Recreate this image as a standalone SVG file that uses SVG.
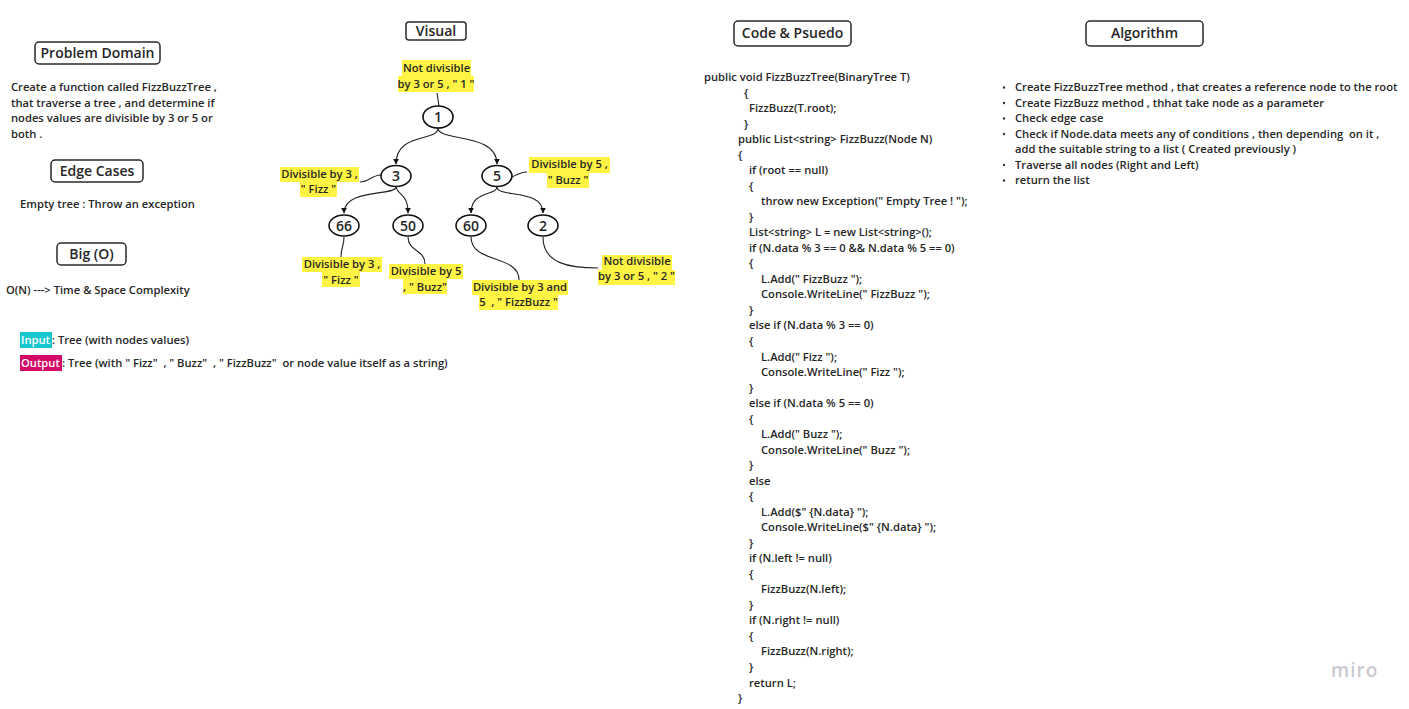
<svg xmlns="http://www.w3.org/2000/svg" width="1409" height="709" viewBox="0 0 1409 709">
<style>
text{font-family:"Open Sans","Noto Sans","DejaVu Sans",sans-serif;font-weight:600;fill:#262626;white-space:pre}
.b{font-size:11.2px}
.h{font-size:14px}
.n{font-size:14px;text-anchor:middle}
.c{text-anchor:middle}
.box{fill:#fff;stroke:#2a2a2a;stroke-width:1.5}
.hl{fill:#fff443}
.nd{fill:#fff;stroke:#111;stroke-width:1.6}
.e{fill:none;stroke:#222;stroke-width:1.1}
.a{fill:none;stroke:#222;stroke-width:1.1;marker-end:url(#ar)}
.w{fill:#fff}
</style>
<defs>
<marker id="ar" viewBox="0 0 10 10" refX="9" refY="5" markerWidth="6" markerHeight="9" orient="auto" markerUnits="userSpaceOnUse">
<path d="M0,0 L10,5 L0,10 z" fill="#111"/>
</marker>
</defs>
<rect width="1409" height="709" fill="#fff"/>

<g id="problem-domain">
<rect class="box" x="35" y="42" width="125" height="22" rx="4"/>
<text class="h c" x="97.5" y="58">Problem Domain</text>
<text class="b" x="11" y="91">Create a function called FizzBuzzTree ,</text>
<text class="b" x="11" y="107">that traverse a tree , and determine if</text>
<text class="b" x="11" y="122">nodes values are divisible by 3 or 5 or</text>
<text class="b" x="11" y="138">both .</text>
</g>

<g id="edge-cases">
<rect class="box" x="51" y="160" width="92" height="22" rx="4"/>
<text class="h c" x="97" y="176">Edge Cases</text>
<text class="b" x="20" y="208">Empty tree : Throw an exception</text>
</g>

<g id="big-o">
<rect class="box" x="57" y="243" width="69" height="22" rx="4"/>
<text class="h c" x="91.5" y="259">Big (O)</text>
<text class="b" x="6" y="294">O(N) ---&gt; Time &amp; Space Complexity</text>
</g>

<g id="input-output">
<rect x="20" y="332" width="32" height="16" fill="#18c6cf"/>
<text class="b w" x="21" y="344">Input</text>
<text class="b" x="52" y="344">: Tree (with nodes values)</text>
<rect x="20" y="355" width="42" height="16" fill="#d40866"/>
<text class="b w" x="21" y="367">Output</text>
<text class="b" x="62" y="367">: Tree (with " Fizz"  , " Buzz"  , " FizzBuzz"  or node value itself as a string)</text>
</g>

<g id="visual-title">
<rect class="box" x="406" y="22" width="60" height="18" rx="3"/>
<text class="h c" x="436" y="36">Visual</text>
</g>

<g id="connectors">
<path class="a" d="M438,128 C438,142 396,132 396,164"/>
<path class="a" d="M438,128 C438,142 497,132 497,164"/>
<path class="a" d="M396,187 C396,196 344,188 344,213"/>
<path class="a" d="M396,187 C398,196 408,193 408,213"/>
<path class="a" d="M497,187 C497,196 471,190 471,213"/>
<path class="a" d="M497,187 C497,198 543,188 543,213"/>
<path class="e" d="M437,93 L439,106"/>
<path class="e" d="M360,182 C369,182 372,175 381,175"/>
<path class="e" d="M512,177 C518,174 521,172 527,172"/>
<path class="e" d="M344,237 C344,246 341,248 341,257"/>
<path class="e" d="M408,237 C408,252 425,249 425,264"/>
<path class="e" d="M471,237 C471,264 519,254 519,280"/>
<path class="e" d="M543,237 C543,264 570,268 598,268"/>
</g>

<g id="node-1">
<ellipse class="nd" cx="438" cy="117" rx="15" ry="11"/>
<text class="n" x="438" y="122">1</text>
</g>
<g id="node-3">
<ellipse class="nd" cx="396" cy="176" rx="15" ry="10.5"/>
<text class="n" x="396" y="181">3</text>
</g>
<g id="node-5">
<ellipse class="nd" cx="497" cy="176" rx="15" ry="10.5"/>
<text class="n" x="497" y="181">5</text>
</g>
<g id="node-66">
<ellipse class="nd" cx="344" cy="225.5" rx="15" ry="10.5"/>
<text class="n" x="344" y="230.5">66</text>
</g>
<g id="node-50">
<ellipse class="nd" cx="408" cy="225.5" rx="15" ry="10.5"/>
<text class="n" x="408" y="230.5">50</text>
</g>
<g id="node-60">
<ellipse class="nd" cx="471" cy="225.5" rx="15" ry="10.5"/>
<text class="n" x="471" y="230.5">60</text>
</g>
<g id="node-2">
<ellipse class="nd" cx="543" cy="225.5" rx="15" ry="10.5"/>
<text class="n" x="543" y="230.5">2</text>
</g>

<g id="label-1">
<rect class="hl" x="402" y="60" width="69" height="16"/>
<rect class="hl" x="398" y="76" width="76" height="16"/>
<text class="b c" x="436.5" y="72">Not divisible</text>
<text class="b c" x="436" y="88">by 3 or 5 , " 1 "</text>
</g>
<g id="label-3">
<rect class="hl" x="280" y="167" width="79" height="15"/>
<rect class="hl" x="300" y="182" width="37" height="15"/>
<text class="b c" x="319.5" y="178">Divisible by 3 ,</text>
<text class="b c" x="318.5" y="193">" Fizz "</text>
</g>
<g id="label-5">
<rect class="hl" x="529" y="157" width="81" height="16"/>
<rect class="hl" x="547" y="173" width="42" height="15"/>
<text class="b c" x="569.5" y="168">Divisible by 5 ,</text>
<text class="b c" x="568" y="184">" Buzz "</text>
</g>
<g id="label-66">
<rect class="hl" x="302" y="257" width="80" height="15"/>
<rect class="hl" x="322" y="272" width="38" height="15"/>
<text class="b c" x="342" y="268">Divisible by 3 ,</text>
<text class="b c" x="341" y="284">" Fizz "</text>
</g>
<g id="label-50">
<rect class="hl" x="389" y="264" width="74" height="15"/>
<rect class="hl" x="403" y="279" width="44" height="15"/>
<text class="b c" x="426" y="275">Divisible by 5</text>
<text class="b c" x="425" y="291">, " Buzz"</text>
</g>
<g id="label-60">
<rect class="hl" x="472" y="280" width="96" height="15"/>
<rect class="hl" x="479" y="295" width="79" height="15"/>
<text class="b c" x="520" y="291">Divisible by 3 and</text>
<text class="b c" x="518.5" y="306">5  , " FizzBuzz "</text>
</g>
<g id="label-2">
<rect class="hl" x="602" y="255" width="70" height="15"/>
<rect class="hl" x="598" y="270" width="77" height="15"/>
<text class="b c" x="637" y="265">Not divisible</text>
<text class="b c" x="636.5" y="280">by 3 or 5 , " 2 "</text>
</g>

<g id="code">
<rect class="box" x="734" y="21" width="117" height="25" rx="4"/>
<text class="h c" x="792.5" y="38">Code &amp; Psuedo</text>
<text class="b" x="704" y="81">public void FizzBuzzTree(BinaryTree T)</text>
<text class="b" x="744" y="96.5">{</text>
<text class="b" x="749" y="112">FizzBuzz(T.root);</text>
<text class="b" x="744" y="127.6">}</text>
<text class="b" x="738" y="143.1">public List&lt;string&gt; FizzBuzz(Node N)</text>
<text class="b" x="738" y="158.6">{</text>
<text class="b" x="749" y="174.2">if (root == null)</text>
<text class="b" x="749" y="189.7">{</text>
<text class="b" x="761" y="205.2">throw new Exception(" Empty Tree ! ");</text>
<text class="b" x="749" y="220.7">}</text>
<text class="b" x="749" y="236.3">List&lt;string&gt; L = new List&lt;string&gt;();</text>
<text class="b" x="749" y="251.8">if (N.data % 3 == 0 &amp;&amp; N.data % 5 == 0)</text>
<text class="b" x="749" y="267.3">{</text>
<text class="b" x="761" y="282.8">L.Add(" FizzBuzz ");</text>
<text class="b" x="761" y="298.4">Console.WriteLine(" FizzBuzz ");</text>
<text class="b" x="749" y="313.9">}</text>
<text class="b" x="749" y="329.4">else if (N.data % 3 == 0)</text>
<text class="b" x="749" y="344.9">{</text>
<text class="b" x="761" y="360.5">L.Add(" Fizz ");</text>
<text class="b" x="761" y="376">Console.WriteLine(" Fizz ");</text>
<text class="b" x="749" y="391.5">}</text>
<text class="b" x="749" y="407">else if (N.data % 5 == 0)</text>
<text class="b" x="749" y="422.6">{</text>
<text class="b" x="761" y="438.1">L.Add(" Buzz ");</text>
<text class="b" x="761" y="453.6">Console.WriteLine(" Buzz ");</text>
<text class="b" x="749" y="469.1">}</text>
<text class="b" x="749" y="484.7">else</text>
<text class="b" x="749" y="500.2">{</text>
<text class="b" x="761" y="515.7">L.Add($" {N.data} ");</text>
<text class="b" x="761" y="531.2">Console.WriteLine($" {N.data} ");</text>
<text class="b" x="749" y="546.8">}</text>
<text class="b" x="749" y="562.3">if (N.left != null)</text>
<text class="b" x="749" y="577.8">{</text>
<text class="b" x="761" y="593.3">FizzBuzz(N.left);</text>
<text class="b" x="749" y="608.9">}</text>
<text class="b" x="749" y="624.4">if (N.right != null)</text>
<text class="b" x="749" y="639.9">{</text>
<text class="b" x="761" y="655.4">FizzBuzz(N.right);</text>
<text class="b" x="749" y="671">}</text>
<text class="b" x="749" y="686.5">return L;</text>
<text class="b" x="738" y="702">}</text>
</g>

<g id="algorithm">
<rect class="box" x="1086" y="21" width="117" height="25" rx="4"/>
<text class="h c" x="1144.5" y="38">Algorithm</text>
<g fill="#333">
<circle cx="1004" cy="87.5" r="1.2"/>
<circle cx="1004" cy="103" r="1.2"/>
<circle cx="1004" cy="118.5" r="1.2"/>
<circle cx="1004" cy="134" r="1.2"/>
<circle cx="1004" cy="165" r="1.2"/>
<circle cx="1004" cy="180.5" r="1.2"/>
</g>
<text class="b" x="1015" y="91">Create FizzBuzzTree method , that creates a reference node to the root</text>
<text class="b" x="1015" y="106.5">Create FizzBuzz method , thhat take node as a parameter</text>
<text class="b" x="1015" y="122">Check edge case</text>
<text class="b" x="1015" y="137.5">Check if Node.data meets any of conditions , then depending  on it ,</text>
<text class="b" x="1015" y="153">add the suitable string to a list ( Created previously )</text>
<text class="b" x="1015" y="168.5">Traverse all nodes (Right and Left)</text>
<text class="b" x="1015" y="184">return the list</text>
</g>

<text x="1331" y="677" style="font-family:'Open Sans',sans-serif;font-weight:600;font-size:19px;fill:#c9c9d1;letter-spacing:1px">miro</text>
</svg>
